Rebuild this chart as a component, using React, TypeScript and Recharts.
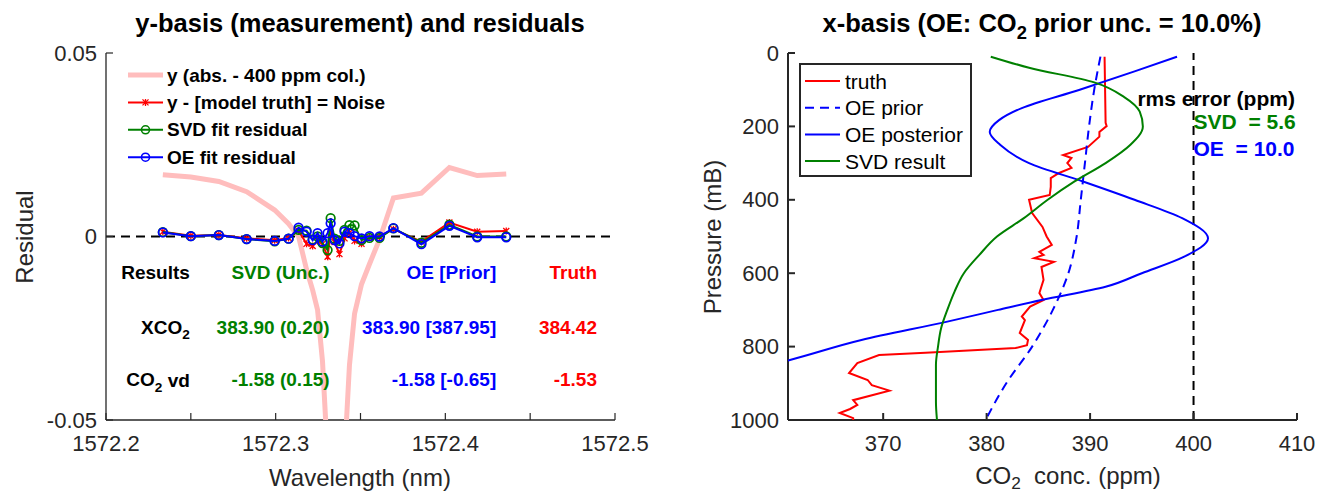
import React from 'react';
import { ScatterChart, Scatter, XAxis, YAxis, ReferenceLine, ReferenceDot } from 'recharts';

const FONT = '"Liberation Sans", Arial, Helvetica, sans-serif';
const AXIS = '#262626';
const RED = '#ff0000';
const GREEN = '#008000';
const BLUE = '#0000ff';
const PINK = '#ffbdbd';

// ---------- left panel: y-basis and residuals ----------
const wavelength = [
  1572.2335, 1572.25, 1572.2665, 1572.2829, 1572.2994, 1572.3076, 1572.3135, 1572.3182, 1572.3218,
  1572.3247, 1572.3276, 1572.3306, 1572.3324, 1572.3347, 1572.3376, 1572.3406, 1572.3435, 1572.3465,
  1572.3506, 1572.3553, 1572.3612, 1572.3694, 1572.3859, 1572.4024, 1572.4188, 1572.4359,
];
const absorption = [
  0.0168, 0.0162, 0.015, 0.0122, 0.0072, 0.0035, 0.0, -0.009, -0.0146, -0.02, -0.034, -0.06, -0.09,
  -0.12, -0.1, -0.06, -0.035, -0.021, -0.013, -0.0075, -0.0008, 0.0105, 0.0118, 0.0188, 0.0166, 0.017,
];
const noise = [
  0.0013, 0.0002, 0.0004, -0.0005, -0.001, -0.0004, 0.0016, -0.002, -0.0026, -0.0012, -0.002, -0.0055,
  0.0008, -0.0015, -0.0048, -0.0005, 0.001, -0.0012, -0.002, -0.0003, 0.0, 0.002, -0.0014, 0.0038, 0.0013, 0.0015,
];
const svdResidual = [
  0.0012, 0.0001, 0.0004, -0.0007, -0.0013, -0.0006, 0.0018, 0.0016, -0.0008, 0.0, -0.0018, -0.0037,
  0.005, -0.0006, -0.0012, 0.0018, 0.0031, 0.003, -0.001, -0.0004, -0.0004, 0.0022, -0.0017, 0.0032, 0.0, 0.0,
];
const oeResidual = [
  0.0011, 0.0001, 0.0004, -0.0007, -0.0012, -0.0006, 0.0024, 0.0013, -0.001, 0.0009, -0.0014, 0.0009,
  0.0036, -0.001, -0.0019, 0.0013, 0.0009, 0.0001, -0.0005, 0.0001, 0.0, 0.0023, -0.0021, 0.0029, -0.0002, -0.0002,
];
const wlTicks = [1572.2, 1572.25, 1572.3, 1572.35, 1572.4, 1572.45, 1572.5];
const wlTickLabels = ['1572.2', '', '1572.3', '', '1572.4', '', '1572.5'];
const residTicks = [-0.05, 0, 0.05];
const residTickLabels = ['-0.05', '0', '0.05'];

// results table
const headRow = ['Results', 'SVD (Unc.)', 'OE [Prior]', 'Truth'];
const xco2Row = ['383.90 (0.20)', '383.90 [387.95]', '384.42'];
const vdRow = ['-1.58 (0.15)', '-1.58 [-0.65]', '-1.53'];
const colColors = ['#000000', GREEN, BLUE, RED];
const colX = [1572.2494, 1572.3318, 1572.43, 1572.4894];
const rowY = [-0.0097, -0.0247, -0.0391];

// ---------- right panel: x-basis profiles ----------
const truthP = [
  10, 190, 199, 215, 228, 256, 278, 286, 300, 313, 327, 341, 365, 387, 400, 436, 474, 500, 523, 542, 550,
  559, 569, 583, 618, 654, 673, 691, 718, 728, 763, 782, 796, 804, 817, 823, 845, 872, 891, 905, 920, 946,
  959, 970, 981, 995, 1000,
];
const truthCO2 = [
  391.4, 391.5, 391.6, 390.9, 390.9, 389.8, 387.4, 388.2, 387.8, 388.2, 387.0, 386.2, 386.2, 386.1, 384.1,
  384.4, 385.4, 385.8, 386.3, 385.1, 385.5, 384.6, 386.5, 385.3, 385.5, 385.1, 385.5, 384.2, 383.4, 383.7,
  383.2, 384.0, 383.9, 382.8, 374.1, 369.6, 367.5, 366.7, 368.5, 368.9, 370.6, 367.1, 367.5, 366.8, 365.8,
  367.1, 367.1,
];
const priorP = [10, 100, 200, 300, 400, 500, 600, 700, 800, 900, 1000];
const priorCO2 = [391.0, 390.4, 389.9, 389.5, 389.1, 388.7, 387.9, 386.4, 384.4, 381.9, 379.9];
const postP = [10, 50, 100, 150, 183, 215, 250, 300, 350, 400, 450, 505, 555, 600, 637, 673, 700, 732, 782, 837, 860];
const postCO2 = [
  398.4, 394.3, 389.0, 383.4, 381.2, 380.3, 381.3, 384.1, 389.3, 394.3, 398.9, 401.4, 399.1, 395.0, 391.5,
  385.3, 381.1, 376.2, 367.9, 360.9, 357.6,
];
const svdP = [10, 40, 80, 120, 160, 200, 250, 300, 350, 400, 450, 500, 550, 600, 650, 700, 750, 800, 850, 900, 950, 1000];
const svdCO2 = [
  380.4, 384.1, 390.4, 393.3, 394.8, 395.1, 393.9, 391.5, 388.5, 385.9, 383.6, 381.0, 379.3, 377.8, 376.9,
  376.2, 375.6, 375.3, 375.1, 375.1, 375.1, 375.2,
];
const ppmTicks = [370, 380, 390, 400, 410];
const ppmTickLabels = ['370', '380', '390', '400', '410'];
const presTicks = [0, 200, 400, 600, 800, 1000];
const presTickLabels = ['0', '200', '400', '600', '800', '1000'];

const leftSeries = (ys: number[]) => wavelength.map((x, i) => ({ x, y: ys[i] }));
const profile = (p: number[], c: number[]) => p.map((y, i) => ({ x: c[i], y }));

type Side = 'bottom' | 'top' | 'left' | 'right';

// MATLAB style ticks pointing into the box, with optional labels outside
function inwardTick(side: Side, labels: string[] | null, sw: number, gap: number) {
  return (props: any) => {
    const { x, y, index } = props;
    const len = 7;
    const lbl = labels ? labels[index] : '';
    let line = null;
    if (side === 'bottom') line = <line x1={x} x2={x} y1={y} y2={y - len} />;
    else if (side === 'top') line = <line x1={x} x2={x} y1={y} y2={y + len} />;
    else if (side === 'left') line = <line x1={x} x2={x + len} y1={y} y2={y} />;
    else line = <line x1={x} x2={x - len} y1={y} y2={y} />;
    return (
      <g>
        <g stroke={AXIS} strokeWidth={sw}>{line}</g>
        {lbl && side === 'bottom' && (
          <text x={x} y={y + gap} textAnchor="middle" dominantBaseline="central" fill={AXIS} fontSize={22}>
            {lbl}
          </text>
        )}
        {lbl && side === 'left' && (
          <text x={x - gap} y={y} textAnchor="end" dominantBaseline="central" fill={AXIS} fontSize={22}>
            {lbl}
          </text>
        )}
      </g>
    );
  };
}

const ring = (color: string) => (p: any) => (
  <circle cx={p.cx} cy={p.cy} r={4.3} fill="none" stroke={color} strokeWidth={1.7} />
);
const star = (color: string) => (p: any) => (
  <path
    d={`M${p.cx - 3},${p.cy - 3}L${p.cx + 3},${p.cy + 3}M${p.cx - 3},${p.cy + 3}L${p.cx + 3},${p.cy - 3}M${p.cx},${p.cy - 3.5}L${p.cx},${p.cy + 3.5}`}
    stroke={color}
    strokeWidth={1.3}
  />
);
const noMark = () => <g />;

// text with a subscript in the middle, e.g. CO_2
function withSub(pre: string, s: string, post: string, size: number) {
  const shift = size * 0.35;
  return [
    pre,
    <tspan key="s" dy={shift} fontSize={size * 0.72}>{s}</tspan>,
    post ? <tspan key="p" dy={-shift}>{post}</tspan> : null,
  ];
}

// text annotation placed at a data point
function note(content: React.ReactNode, color: string, anchor: string, size: number) {
  return (props: any) => {
    const vb = props.viewBox || {};
    return (
      <text
        x={vb.x}
        y={vb.y}
        fill={color}
        textAnchor={anchor}
        dominantBaseline="central"
        fontWeight="bold"
        fontSize={size}
        style={{ whiteSpace: 'pre' }}
      >
        {content}
      </text>
    );
  };
}

function LeftPanel() {
  const axLine = { stroke: AXIS, strokeWidth: 1.3 };
  return (
    <ScatterChart width={660} height={492} margin={{ top: 53, left: 46, right: 45, bottom: 42 }}>
      <XAxis
        type="number"
        dataKey="x"
        domain={[1572.2, 1572.5]}
        ticks={wlTicks}
        interval={0}
        allowDataOverflow
        height={30}
        tickSize={0}
        tickMargin={0}
        tickLine={false}
        axisLine={axLine}
        tick={inwardTick('bottom', wlTickLabels, 1.2, 23)}
      />
      <XAxis
        xAxisId="t"
        orientation="top"
        type="number"
        domain={[1572.2, 1572.5]}
        ticks={wlTicks}
        interval={0}
        allowDataOverflow
        height={0}
        tickSize={0}
        tickMargin={0}
        tickLine={false}
        axisLine={axLine}
        tick={inwardTick('top', null, 1.2, 0)}
      />
      <YAxis
        type="number"
        dataKey="y"
        domain={[-0.05, 0.05]}
        ticks={residTicks}
        interval={0}
        allowDataOverflow
        width={60}
        tickSize={0}
        tickMargin={0}
        tickLine={false}
        axisLine={axLine}
        tick={inwardTick('left', residTickLabels, 1.2, 9)}
      />
      <YAxis
        yAxisId="r"
        orientation="right"
        type="number"
        domain={[-0.05, 0.05]}
        ticks={residTicks}
        interval={0}
        allowDataOverflow
        width={0}
        tickSize={0}
        tickMargin={0}
        tickLine={false}
        axisLine={axLine}
        tick={inwardTick('right', null, 1.2, 0)}
      />
      <Scatter
        data={leftSeries(absorption)}
        fill={PINK}
        line={{ stroke: PINK, strokeWidth: 5 }}
        lineType="joint"
        shape={noMark}
        isAnimationActive={false}
      />
      <ReferenceLine y={0} stroke="#000" strokeWidth={2} strokeDasharray="9 6" />
      <Scatter
        data={leftSeries(noise)}
        fill={RED}
        line={{ stroke: RED, strokeWidth: 2 }}
        lineType="joint"
        shape={star(RED)}
        isAnimationActive={false}
      />
      <Scatter
        data={leftSeries(svdResidual)}
        fill={GREEN}
        line={{ stroke: GREEN, strokeWidth: 2 }}
        lineType="joint"
        shape={ring(GREEN)}
        isAnimationActive={false}
      />
      <Scatter
        data={leftSeries(oeResidual)}
        fill={BLUE}
        line={{ stroke: BLUE, strokeWidth: 2 }}
        lineType="joint"
        shape={ring(BLUE)}
        isAnimationActive={false}
      />
      {headRow.map((t, i) => (
        <ReferenceDot key={'h' + i} x={colX[i]} y={rowY[0]} r={0} fill="none" stroke="none"
          label={{ content: note(t, colColors[i], 'end', 19) }} />
      ))}
      <ReferenceDot x={colX[0]} y={rowY[1]} r={0} fill="none" stroke="none"
        label={{ content: note(withSub('XCO', '2', '', 19), '#000', 'end', 19) }} />
      <ReferenceDot x={colX[0]} y={rowY[2]} r={0} fill="none" stroke="none"
        label={{ content: note(withSub('CO', '2', ' vd', 19), '#000', 'end', 19) }} />
      {xco2Row.map((t, i) => (
        <ReferenceDot key={'x' + i} x={colX[i + 1]} y={rowY[1]} r={0} fill="none" stroke="none"
          label={{ content: note(t, colColors[i + 1], 'end', 19) }} />
      ))}
      {vdRow.map((t, i) => (
        <ReferenceDot key={'v' + i} x={colX[i + 1]} y={rowY[2]} r={0} fill="none" stroke="none"
          label={{ content: note(t, colColors[i + 1], 'end', 19) }} />
      ))}
    </ScatterChart>
  );
}

function RightPanel() {
  const axLine = { stroke: AXIS, strokeWidth: 2 };
  const xDom: [number, number] = [360.8, 410];
  return (
    <ScatterChart width={659} height={492} margin={{ top: 53, left: 68, right: 22, bottom: 42 }}>
      <XAxis
        type="number"
        dataKey="x"
        domain={xDom}
        ticks={ppmTicks}
        interval={0}
        allowDataOverflow
        height={30}
        tickSize={0}
        tickMargin={0}
        tickLine={false}
        axisLine={axLine}
        tick={inwardTick('bottom', ppmTickLabels, 2, 23)}
      />
      <XAxis
        xAxisId="t"
        orientation="top"
        type="number"
        domain={xDom}
        ticks={ppmTicks}
        interval={0}
        allowDataOverflow
        height={0}
        tickSize={0}
        tickMargin={0}
        tickLine={false}
        axisLine={axLine}
        tick={inwardTick('top', null, 2, 0)}
      />
      <YAxis
        type="number"
        dataKey="y"
        reversed
        domain={[0, 1000]}
        ticks={presTicks}
        interval={0}
        allowDataOverflow
        width={60}
        tickSize={0}
        tickMargin={0}
        tickLine={false}
        axisLine={axLine}
        tick={inwardTick('left', presTickLabels, 2, 9)}
      />
      <YAxis
        yAxisId="r"
        orientation="right"
        type="number"
        reversed
        domain={[0, 1000]}
        ticks={presTicks}
        interval={0}
        allowDataOverflow
        width={0}
        tickSize={0}
        tickMargin={0}
        tickLine={false}
        axisLine={axLine}
        tick={inwardTick('right', null, 2, 0)}
      />
      <ReferenceLine x={400} stroke="#000" strokeWidth={2} strokeDasharray="9 6" />
      <Scatter
        data={profile(truthP, truthCO2)}
        fill={RED}
        line={{ stroke: RED, strokeWidth: 2 }}
        lineType="joint"
        shape={noMark}
        isAnimationActive={false}
      />
      <Scatter
        data={profile(priorP, priorCO2)}
        fill={BLUE}
        line={{ stroke: BLUE, strokeWidth: 2, strokeDasharray: '9 6' }}
        lineType="joint"
        lineJointType="monotoneY"
        shape={noMark}
        isAnimationActive={false}
      />
      <Scatter
        data={profile(postP, postCO2)}
        fill={BLUE}
        line={{ stroke: BLUE, strokeWidth: 2 }}
        lineType="joint"
        lineJointType="monotoneY"
        shape={noMark}
        isAnimationActive={false}
      />
      <Scatter
        data={profile(svdP, svdCO2)}
        fill={GREEN}
        line={{ stroke: GREEN, strokeWidth: 2 }}
        lineType="joint"
        lineJointType="monotoneY"
        shape={noMark}
        isAnimationActive={false}
      />
      <ReferenceDot x={409.8} y={123} r={0} fill="none" stroke="none"
        label={{ content: note('rms error (ppm)', '#000', 'end', 21) }} />
      <ReferenceDot x={400} y={188} r={0} fill="none" stroke="none"
        label={{ content: note('SVD  = 5.6', GREEN, 'start', 21) }} />
      <ReferenceDot x={400} y={259} r={0} fill="none" stroke="none"
        label={{ content: note('OE  = 10.0', BLUE, 'start', 21) }} />
    </ScatterChart>
  );
}

const leftLegend = [
  { name: 'y (abs. - 400 ppm col.)', color: PINK, width: 5, mark: '' },
  { name: 'y - [model truth] = Noise', color: RED, width: 2, mark: 'star' },
  { name: 'SVD fit residual', color: GREEN, width: 2, mark: 'ring' },
  { name: 'OE fit residual', color: BLUE, width: 2, mark: 'ring' },
];
const rightLegend = [
  { name: 'truth', color: RED, dash: '' },
  { name: 'OE prior', color: BLUE, dash: '9 6' },
  { name: 'OE posterior', color: BLUE, dash: '' },
  { name: 'SVD result', color: GREEN, dash: '' },
];

function Overlay() {
  return (
    <svg width={1319} height={492} style={{ position: 'absolute', left: 0, top: 0, pointerEvents: 'none' }} fontFamily={FONT}>
      {/* titles */}
      <text x={360} y={23} textAnchor="middle" dominantBaseline="central" fontWeight="bold" fontSize={25.5} fill="#000">
        y-basis (measurement) and residuals
      </text>
      <text x={1042} y={23} textAnchor="middle" dominantBaseline="central" fontWeight="bold" fontSize={25.5} fill="#000" style={{ whiteSpace: 'pre' }}>
        {withSub('x-basis (OE: CO', '2', ' prior unc. = 10.0%)', 25.5)}
      </text>
      {/* axis labels */}
      <text x={360} y={477} textAnchor="middle" dominantBaseline="central" fontSize={24} fill={AXIS}>
        Wavelength (nm)
      </text>
      <text transform="translate(24,237) rotate(-90)" textAnchor="middle" dominantBaseline="central" fontSize={24} fill={AXIS}>
        Residual
      </text>
      <text x={1068} y={475} textAnchor="middle" dominantBaseline="central" fontSize={24} fill={AXIS} style={{ whiteSpace: 'pre' }}>
        {withSub('CO', '2', '  conc. (ppm)', 24)}
      </text>
      <text transform="translate(712,237) rotate(-90)" textAnchor="middle" dominantBaseline="central" fontSize={24} fill={AXIS}>
        Pressure (mB)
      </text>
      {/* left legend */}
      {leftLegend.map((e, i) => {
        const y = 75 + i * 27.4;
        return (
          <g key={e.name}>
            <line x1={128} x2={163} y1={y} y2={y} stroke={e.color} strokeWidth={e.width} />
            {e.mark === 'ring' && <circle cx={145.5} cy={y} r={4} fill="none" stroke={e.color} strokeWidth={1.6} />}
            {e.mark === 'star' && (
              <path d={`M142.5,${y - 3}L148.5,${y + 3}M142.5,${y + 3}L148.5,${y - 3}M145.5,${y - 3.5}L145.5,${y + 3.5}`} stroke={e.color} strokeWidth={1.3} />
            )}
            <text x={167} y={y} dominantBaseline="central" fontWeight="bold" fontSize={19} fill="#000">
              {e.name}
            </text>
          </g>
        );
      })}
      {/* right legend */}
      <rect x={800} y={64} width={171} height={112} fill="#fff" stroke={AXIS} strokeWidth={2} />
      {rightLegend.map((e, i) => {
        const y = 81 + i * 26.7;
        return (
          <g key={e.name}>
            <line x1={805} x2={840} y1={y} y2={y} stroke={e.color} strokeWidth={2} strokeDasharray={e.dash || undefined} />
            <text x={845} y={y} dominantBaseline="central" fontSize={21} fill="#000">
              {e.name}
            </text>
          </g>
        );
      })}
    </svg>
  );
}

export default function App() {
  return (
    <div style={{ position: 'absolute', left: 0, top: 0, width: 1319, height: 492, background: '#fff', fontFamily: FONT }}>
      <div style={{ position: 'absolute', left: 0, top: 0 }}>
        <LeftPanel />
      </div>
      <div style={{ position: 'absolute', left: 660, top: 0 }}>
        <RightPanel />
      </div>
      <Overlay />
    </div>
  );
}
